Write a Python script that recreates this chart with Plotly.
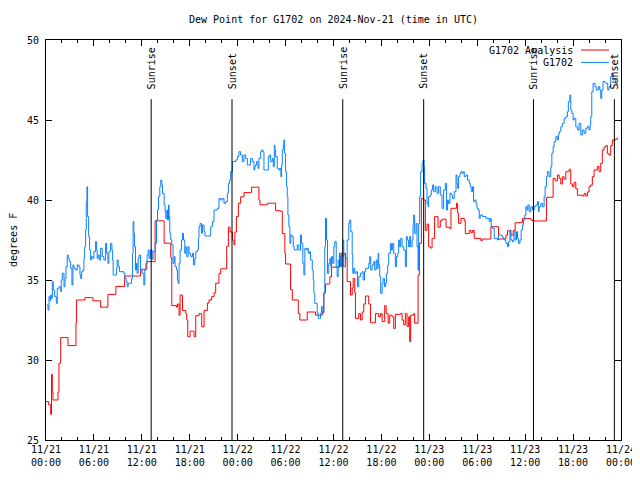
import plotly.graph_objects as go

# Hours since 2024-11-21 00:00 UTC
analysis_hours = [0.00, 0.34, 0.59, 0.69, 0.79, 0.875, 1.375, 1.5, 1.625, 1.84, 2.34, 2.75, 3.71, 3.75, 3.81,
    4.75, 4.875, 5.71, 5.875, 6.41, 6.84, 7.375, 7.75, 8.625, 8.75, 9.625, 9.84, 11.75, 11.84, 12.46,
    12.625, 13.5, 13.66, 14.59, 14.79, 15.5, 15.625, 15.75, 16.34, 16.46, 16.66, 16.79, 17.0, 17.09,
    17.5, 17.625, 17.75, 17.91, 18.04, 18.34, 18.54, 18.75, 19.16, 19.375, 19.5, 19.79, 20.21, 20.41,
    20.75, 21.04, 21.25, 21.66, 21.875, 22.5, 22.625, 22.84, 23.04, 23.34, 23.54, 23.66, 23.84, 24.09,
    24.375, 24.79, 25.625, 25.75, 26.59, 26.66, 26.79, 27.59, 27.71, 28.54, 28.75, 29.375, 29.59, 29.91,
    30.0, 30.5, 30.625, 30.84, 31.46, 31.59, 31.79, 32.5, 32.71, 33.54, 33.75, 34.375, 34.59, 34.79,
    35.0, 35.41, 35.54, 35.75, 36.66, 36.75, 37.09, 37.29, 37.5, 37.71, 37.91, 38.125, 38.34, 38.46,
    38.66, 38.75, 38.96, 39.16, 39.375, 39.59, 39.79, 40.0, 40.21, 40.41, 40.625, 41.04, 41.25, 41.66,
    41.875, 42.09, 42.41, 42.59, 42.84, 43.04, 43.34, 43.54, 43.75, 44.16, 44.375, 44.59, 44.79, 45.0,
    45.21, 45.41, 45.54, 45.66, 46.04, 46.16, 46.46, 46.59, 46.75, 47.0, 47.29, 47.5, 47.71, 47.91,
    48.125, 48.34, 48.54, 48.66, 48.96, 49.09, 49.375, 49.59, 49.875, 50.09, 50.5, 50.71, 51.25, 51.41,
    51.54, 51.66, 51.84, 51.96, 52.375, 52.5, 53.0, 53.21, 53.41, 53.625, 54.46, 54.66, 55.5, 55.71,
    56.54, 56.66, 57.5, 57.59, 57.79, 58.09, 58.21, 58.5, 58.75, 59.46, 59.66, 60.5, 60.71, 60.91,
    62.59, 62.66, 63.34, 63.5, 63.75, 64.04, 64.25, 64.46, 64.66, 64.875, 65.09, 65.5, 65.71, 65.91,
    66.125, 66.34, 66.54, 67.16, 67.375, 67.59, 67.79, 68.0, 68.21, 68.41, 68.625, 69.04, 69.25, 69.46,
    69.66, 69.875, 70.09, 70.29, 70.5, 70.71, 70.91, 71.34, 71.54]
analysis_dewpt = [27.4, 27.2, 26.6, 29.1, 28.0, 27.5, 27.5, 28.0, 29.8, 31.4, 31.4, 30.9, 30.9, 32.3, 33.75,
    33.75, 33.9, 33.9, 33.7, 33.7, 33.3, 33.3, 34.1, 34.1, 34.6, 34.6, 35.25, 35.25, 35.67, 35.67,
    36.15, 36.15, 38.7, 38.7, 37.3, 37.3, 36.4, 33.4, 33.3, 33.5, 32.8, 34.06, 34.06, 33.1,
    32.9, 32.5, 31.46, 31.46, 31.8, 31.8, 31.46, 32.77, 32.9, 32.9, 32.08, 33.1, 33.56, 33.75,
    33.96, 34.2, 34.8, 35.4, 35.7, 35.7, 37.1, 38.3, 38.0, 37.5, 37.2, 38.0, 38.96, 39.8,
    40.2, 40.46, 40.46, 40.8, 40.8, 40.0, 39.7, 39.7, 39.8, 39.8, 39.33, 39.3, 37.9, 36.67,
    36.0, 36.0, 34.4, 33.75, 33.75, 32.9, 32.5, 32.5, 33.0, 33.0, 32.8, 32.8, 33.0, 34.2,
    34.75, 34.75, 35.2, 35.8, 35.8, 36.67, 36.5, 36.67, 36.35, 34.9, 34.9, 34.06, 34.5, 35.1,
    34.2, 32.6, 32.6, 32.9, 32.5, 33.0, 33.5, 34.0, 34.0, 33.5, 32.33, 32.33, 32.9, 32.7,
    32.9, 32.4, 33.4, 32.9, 32.3, 32.8, 32.7, 31.98, 32.85, 32.85, 32.9, 32.5, 32.2, 32.9,
    32.1, 32.7, 31.15, 32.8, 32.9, 32.3, 32.3, 35.3, 37.3, 40.1, 40.0, 38.1, 38.5, 37.08,
    37.0, 37.6, 37.6, 38.96, 38.96, 38.3, 38.7, 38.8, 38.8, 38.3, 38.23, 39.48, 39.48, 39.8,
    39.2, 38.54, 38.54, 38.85, 38.7, 37.9, 38.1, 37.95, 38.1, 37.6, 37.46, 37.56, 37.56, 38.33,
    38.33, 37.56, 37.56, 37.8, 38.08, 38.08, 37.8, 38.1, 38.58, 38.6, 38.85, 38.85, 38.75, 38.69,
    38.69, 40.17, 40.17, 41.35, 41.2, 41.56, 41.35, 41.0, 41.45, 41.3, 41.77, 41.92, 41.0, 40.83,
    41.1, 40.7, 40.3, 40.25, 40.4, 40.25, 40.5, 40.83, 40.94, 41.46, 41.875, 42.1, 41.77, 42.29,
    43.125, 43.3, 43.4, 42.9, 42.8, 43.4, 43.75, 43.8, 43.9]

station_hours = [0.09, 0.25, 0.375, 0.5, 0.59, 0.71, 0.79, 0.91, 1.09, 1.29, 1.41, 1.625, 1.84, 1.91, 2.04,
    2.25, 2.375, 2.5, 2.66, 2.79, 2.91, 3.09, 3.25, 3.375, 3.5, 3.71, 3.91, 4.125, 4.25, 4.34, 4.46,
    4.625, 4.75, 4.84, 4.96, 5.04, 5.125, 5.21, 5.34, 5.46, 5.59, 5.71, 5.875, 6.0, 6.21, 6.34, 6.41,
    6.54, 6.66, 6.84, 7.04, 7.25, 7.46, 7.59, 7.75, 7.875, 8.09, 8.25, 8.34, 8.41, 8.71, 8.84, 8.91,
    9.04, 9.21, 9.75, 9.875, 10.04, 10.16, 10.29, 10.5, 10.71, 10.84, 10.91, 11.0, 11.09, 11.21, 11.34,
    11.41, 11.54, 11.66, 11.84, 12.04, 12.25, 12.375, 12.5, 12.66, 12.79, 12.91, 13.09, 13.29, 13.41,
    13.66, 13.84, 13.96, 14.09, 14.25, 14.375, 14.5, 14.59, 14.79, 14.91, 15.0, 15.125, 15.21, 15.34,
    15.41, 15.5, 15.625, 15.75, 15.91, 16.04, 16.16, 16.34, 16.46, 16.54, 16.66, 16.79, 16.96, 17.09,
    17.21, 17.375, 17.5, 17.625, 17.79, 17.91, 18.125, 18.34, 18.46, 18.625, 18.75, 18.96, 19.09,
    19.16, 19.29, 19.46, 19.59, 19.79, 19.91, 20.41, 20.625, 20.84, 21.04, 21.46, 21.66, 21.875,
    22.09, 22.29, 22.5, 22.71, 22.84, 23.0, 23.125, 23.34, 23.75, 23.96, 24.16, 24.375, 24.59, 24.79,
    25.0, 25.21, 25.41, 25.625, 25.84, 26.04, 26.16, 26.25, 26.375, 26.54, 26.66, 26.875, 27.0, 27.16,
    27.29, 27.71, 27.84, 28.0, 28.125, 28.34, 28.46, 28.59, 28.66, 28.75, 28.96, 29.16, 29.29, 29.41,
    29.5, 29.59, 29.71, 29.79, 29.875, 30.0, 30.125, 30.21, 30.29, 30.41, 30.54, 30.66, 30.84, 30.96,
    31.09, 31.46, 31.66, 31.875, 32.0, 32.16, 32.29, 32.41, 32.59, 32.71, 32.84, 33.0, 33.125, 33.34,
    33.46, 33.54, 33.66, 33.84, 33.96, 34.09, 34.25, 34.375, 34.5, 34.66, 34.79, 34.91, 35.0, 35.125,
    35.25, 35.41, 35.54, 35.66, 35.75, 35.91, 36.04, 36.16, 36.34, 36.46, 36.59, 36.75, 36.875, 37.0,
    37.16, 37.29, 37.5, 37.71, 37.91, 38.04, 38.16, 38.34, 38.41, 38.54, 38.66, 38.84, 39.0, 39.16,
    39.375, 39.59, 39.71, 39.875, 40.0, 40.21, 40.41, 40.54, 40.66, 40.84, 41.04, 41.16, 41.34, 41.46,
    41.59, 41.66, 41.79, 41.91, 42.09, 42.21, 42.375, 42.5, 42.625, 42.79, 42.91, 43.125, 43.25, 43.41,
    43.54, 43.75, 43.875, 44.04, 44.16, 44.29, 44.41, 44.59, 44.79, 45.0, 45.125, 45.25, 45.41, 45.54,
    45.66, 45.84, 45.96, 46.04, 46.16, 46.34, 46.46, 46.59, 46.66, 46.79, 46.91, 47.09, 47.21, 47.34,
    47.41, 47.59, 47.71, 47.84, 47.91, 48.125, 48.25, 48.41, 48.54, 48.75, 48.96, 49.16, 49.375, 49.59,
    49.79, 50.0, 50.16, 50.29, 50.41, 50.59, 50.75, 50.91, 51.125, 51.34, 51.46, 51.54, 51.66, 51.84,
    51.96, 52.09, 52.25, 52.375, 52.59, 52.79, 53.0, 53.125, 53.25, 53.41, 53.54, 53.71, 53.84, 53.96,
    54.125, 54.25, 54.375, 54.66, 55.09, 55.5, 55.625, 55.75, 55.91, 56.125, 56.54, 56.66, 57.09,
    57.25, 57.375, 57.59, 57.79, 57.91, 58.09, 58.21, 58.41, 58.59, 58.75, 58.91, 59.04, 59.16, 59.34,
    59.5, 59.66, 59.79, 59.96, 60.09, 60.21, 60.34, 60.5, 60.71, 60.91, 61.125, 61.34, 61.54, 61.66,
    61.75, 61.96, 62.16, 62.375, 62.5, 62.66, 62.79, 63.0, 63.21, 63.34, 63.5, 63.625, 63.84, 64.04,
    64.16, 64.25, 64.46, 64.66, 64.875, 65.09, 65.29, 65.41, 65.59, 65.71, 65.84, 66.0, 66.125, 66.34,
    66.54, 66.75, 66.96, 67.16, 67.375, 67.59, 67.79, 68.0, 68.125, 68.21, 68.34, 68.5, 68.75, 68.91,
    69.16, 69.34, 69.46, 69.59, 69.75, 70.0, 70.16, 70.34, 70.5, 70.71, 70.84, 71.0, 71.16, 71.34, 71.54]
station_dewpt = [33.44, 33.125, 33.96, 33.7, 34.06, 33.85, 34.9, 34.375, 33.96, 33.54, 34.48, 34.58, 34.27, 35.0, 35.42,
    34.58, 35.1, 35.83, 36.56, 36.35, 36.15, 35.73, 34.69, 35.94, 35.73, 35.625, 35.94, 35.83, 35.31, 35.1, 35.52,
    35.625, 36.35, 37.08, 38.125, 39.9, 40.83, 38.96, 37.71, 36.875, 36.25, 36.46, 36.35, 36.77, 37.4, 36.875, 36.35,
    36.56, 36.25, 36.98, 36.46, 36.25, 37.29, 36.67, 36.04, 36.77, 37.29, 36.875, 36.25, 35.31, 35.31, 35.73, 36.25,
    35.83, 35.52, 35.42, 35.1, 34.9, 34.58, 34.79, 34.8, 35.1, 36.67, 38.65, 37.9, 37.08, 35.625, 36.04,
    35.42, 36.35, 36.56, 35.625, 35.42, 34.69, 35.625, 36.04, 36.56, 36.875, 36.35, 36.875, 36.29, 36.77,
    37.29, 38.75, 39.375, 40.21, 40.83, 41.25, 40.94, 40.42, 39.69, 39.27, 38.85, 39.375, 38.75, 39.69,
    38.96, 37.92, 37.5, 37.19, 36.04, 36.46, 35.83, 35.625, 35.0, 34.79, 36.04, 36.875, 37.5, 37.92,
    37.5, 36.67, 37.08, 36.46, 37.08, 36.67, 36.46, 36.67, 35.94, 36.35, 36.77, 36.875, 37.6,
    38.33, 38.54, 37.92, 38.44, 38.02, 37.75, 37.75, 38.33, 38.65, 39.375, 39.48, 40.1, 40.0,
    40.1, 39.79, 39.9, 40.42, 41.04, 41.25, 41.77, 42.4, 42.5, 42.71, 43.02, 42.81, 42.4, 42.81,
    42.6, 42.19, 42.19, 42.6, 42.4, 41.875, 42.08, 42.19, 42.4, 41.98, 42.6, 43.02, 43.125, 43.02,
    41.875, 41.875, 42.71, 42.81, 42.4, 42.6, 42.08, 43.44, 43.125, 42.71, 41.98, 41.875, 41.98, 41.46,
    42.19, 43.125, 43.44, 43.75, 42.92, 41.77, 40.83, 40.21, 39.06, 38.33, 37.29, 37.81, 37.71, 37.08,
    36.875, 37.19, 36.875, 37.81, 37.29, 36.04, 35.31, 36.98, 36.875, 36.98, 36.67, 36.77, 36.25, 35.625,
    35.0, 34.17, 33.54, 33.54, 32.92, 32.6, 32.6, 32.92, 33.33, 32.92, 34.17, 37.08, 38.85, 37.5,
    35.42, 36.04, 36.35, 35.83, 36.46, 36.04, 37.08, 37.4, 35.83, 35.21, 36.25, 36.56, 35.83, 36.67,
    37.5, 35.83, 36.35, 37.5, 38.54, 38.75, 38.02, 36.56, 35.42, 35.73, 35.42, 35.52, 34.58, 35.21,
    35.42, 35.52, 35.0, 35.52, 35.73, 35.73, 36.04, 36.46, 35.625, 35.94, 36.15, 35.625, 36.25, 35.73,
    36.67, 35.94, 35.21, 34.17, 34.79, 35.1, 34.58, 34.79, 35.42, 35.94, 36.67, 37.29, 36.875, 37.29,
    36.67, 35.83, 36.46, 36.67, 37.5, 37.08, 37.6, 37.08, 36.875, 35.83, 37.71, 37.5, 37.08, 37.71,
    37.08, 37.5, 38.44, 39.06, 37.92, 38.54, 37.08, 35.625, 38.54, 40.21, 41.77, 42.29, 42.5, 42.08,
    41.04, 40.73, 39.79, 39.58, 40.21, 40.31, 40.625, 40.94, 40.52, 40.83, 40.42, 40.83, 40.31, 39.48,
    40.625, 41.04, 39.375, 40.0, 39.79, 40.42, 40.31, 40.1, 40.52, 41.56, 41.04, 40.73, 41.46, 41.67,
    41.77, 41.67, 41.77, 41.46, 41.56, 41.25, 41.04, 40.83, 40.52, 40.83, 39.9, 40.0, 39.79, 39.48,
    39.375, 38.85, 39.06, 38.96, 38.85, 38.65, 38.85, 38.33, 38.23, 37.6, 37.5, 37.81, 37.71,
    37.6, 37.5, 37.29, 37.08, 37.4, 38.125, 37.5, 37.4, 38.02, 37.5, 38.02, 37.6, 37.29, 37.5,
    38.125, 38.44, 38.75, 39.06, 39.58, 39.375, 39.69, 39.27, 39.58, 39.375, 39.58, 39.69, 39.9, 39.27,
    39.58, 39.79, 39.58, 40.21, 40.83, 41.46, 41.77, 41.46, 42.08, 42.92, 43.33, 43.65, 43.96, 43.75,
    44.06, 44.27, 44.58, 44.79, 45.1, 45.21, 45.52, 46.15, 46.56, 45.625, 45.42, 45.0, 45.1, 44.58,
    44.375, 44.79, 44.06, 44.375, 44.17, 44.48, 44.58, 44.375, 44.69, 45.21, 46.77, 47.29, 47.08, 46.875,
    47.08, 46.875, 46.35, 46.875, 47.4, 47.33, 47.29, 46.875, 47.08, 47.71, 47.92, 47.5, 47.6, 47.29, 47.19]

sun_hours = [13.17, 23.29, 37.16, 47.29, 61.04, 71.17]
sun_labels = ["Sunrise", "Sunset", "Sunrise", "Sunset", "Sunrise", "Sunset"]

tick_hours = [0, 6, 12, 18, 24, 30, 36, 42, 48, 54, 60, 66, 72]
tick_labels = ["11/21<br>00:00", "11/21<br>06:00", "11/21<br>12:00", "11/21<br>18:00",
               "11/22<br>00:00", "11/22<br>06:00", "11/22<br>12:00", "11/22<br>18:00",
               "11/23<br>00:00", "11/23<br>06:00", "11/23<br>12:00", "11/23<br>18:00",
               "11/24<br>00:00"]
y_ticks = [25, 30, 35, 40, 45, 50]

series_names = ["G1702 Analysis", "G1702"]
series_colors = ["#ff0000", "#0a80ff"]

FONT = "DejaVu Sans Mono"
FS = 10

fig = go.Figure()
fig.add_trace(go.Scatter(x=analysis_hours, y=analysis_dewpt, mode="lines", line_shape="hv",
                         line=dict(color=series_colors[0], width=1), name=series_names[0],
                         showlegend=False))
fig.add_trace(go.Scatter(x=station_hours, y=station_dewpt, mode="lines", line_shape="hv",
                         line=dict(color=series_colors[1], width=1), name=series_names[1],
                         showlegend=False))

for h, lab in zip(sun_hours, sun_labels):
    fig.add_shape(type="line", xref="x", yref="y", x0=h, x1=h, y0=25, y1=46.3,
                  line=dict(color="black", width=1))
    fig.add_annotation(x=h, xref="x", y=0.872, yref="paper", text=lab, textangle=-90,
                       showarrow=False, xanchor="center", yanchor="bottom",
                       font=dict(family=FONT, size=FS, color="black"))

# custom legend (text left of sample line, like gnuplot)
legend_rows = [0.975, 0.944]
for name, color, yrow in zip(series_names, series_colors, legend_rows):
    fig.add_annotation(x=0.92, xref="paper", y=yrow, yref="paper", text=name, showarrow=False,
                       xanchor="right", yanchor="middle", font=dict(family=FONT, size=FS, color="black"))
    fig.add_shape(type="line", xref="paper", yref="paper", x0=0.9304, x1=0.9791, y0=yrow, y1=yrow,
                  line=dict(color=color, width=1))

fig.add_annotation(x=-0.0574, xref="paper", y=0.5, yref="paper", text="degrees F", textangle=-90,
                   showarrow=False, xanchor="center", yanchor="middle",
                   font=dict(family=FONT, size=FS, color="black"))

fig.add_annotation(x=0.5, xref="paper", y=1.0525, yref="paper",
                   text="Dew Point for G1702 on 2024-Nov-21 (time in UTC)", showarrow=False,
                   xanchor="center", yanchor="middle", font=dict(family=FONT, size=FS, color="black"))

# the page body adds an 8px offset; margins compensate so the plot sits at 46..621 x 40..440
fig.update_layout(
    width=640, height=480,
    margin=dict(l=38, r=27, t=32, b=48, autoexpand=False),
    paper_bgcolor="white", plot_bgcolor="white",
    font=dict(family=FONT, size=FS, color="black"),
    showlegend=False,
)
fig.update_xaxes(range=[0, 72], tickmode="array", tickvals=tick_hours, ticktext=tick_labels,
                 ticks="inside", ticklen=6, tickcolor="black", showgrid=False, zeroline=False,
                 showline=True, linecolor="black", linewidth=1, mirror="ticks", automargin=False,
                 ticklabelstandoff=0,
                 minor=dict(ticks="inside", ticklen=3, dtick=2, tick0=0, tickcolor="black", showgrid=False),
                 tickfont=dict(family=FONT, size=FS))
fig.update_yaxes(range=[25, 50], tickmode="array", tickvals=y_ticks,
                 ticks="inside", ticklen=6, tickcolor="black", showgrid=False, zeroline=False,
                 showline=True, linecolor="black", linewidth=1, mirror="ticks", automargin=False,
                 ticklabelstandoff=4,
                 tickfont=dict(family=FONT, size=FS))

fig.write_html("out.html")
